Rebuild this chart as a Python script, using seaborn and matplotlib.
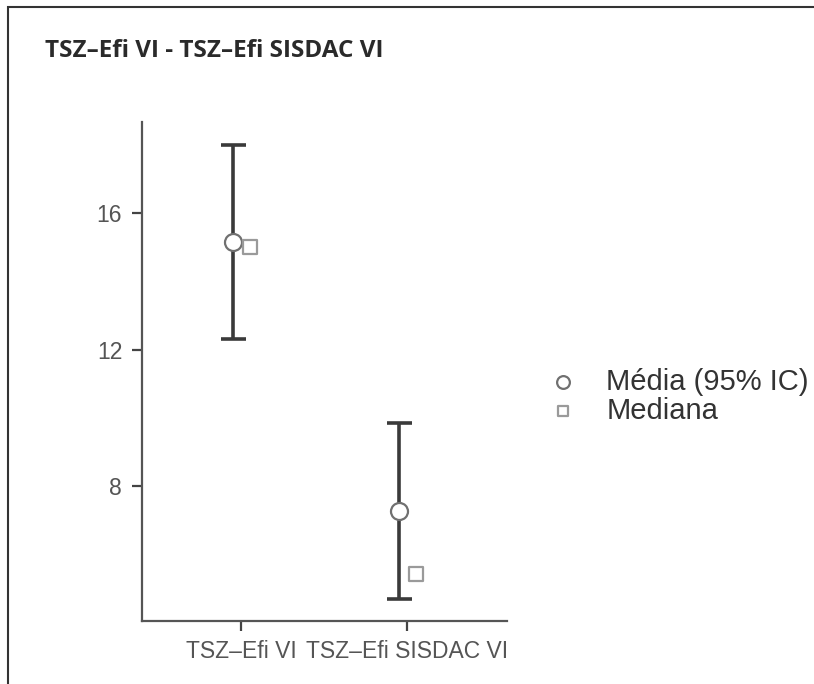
import numpy as np
import pandas as pd
import seaborn as sns
import matplotlib.pyplot as plt
from matplotlib.patches import Rectangle

# summary values
groups = ["TSZ\u2013Efi VI", "TSZ\u2013Efi SISDAC VI"]
means = [15.15, 7.28]
ci_low = [12.32, 4.71]
ci_high = [18.0, 9.85]
medians = [15.0, 5.44]

sns.set_theme(style="ticks")
plt.rcParams['font.family'] = ['Liberation Sans', 'DejaVu Sans']

pos = np.arange(len(groups))
dodge = 0.05
df = pd.DataFrame({"pos": pos, "grupo": groups, "media": means,
                   "lo": ci_low, "hi": ci_high, "mediana": medians})

fig = plt.figure(figsize=(8.14, 6.84), dpi=100)
ax = fig.add_axes([0.174, 0.0925, 0.449, 0.729])

# 95% CI bars
ax.errorbar(df["pos"] - dodge, df["media"],
            yerr=[df["media"] - df["lo"], df["hi"] - df["media"]],
            fmt="none", ecolor="#3a3a3a", elinewidth=2.6, capsize=9,
            capthick=2.6, zorder=2)

sns.scatterplot(x=df["pos"] - dodge, y=df["media"], ax=ax, marker="o", s=150,
                facecolor="white", edgecolor="#707070", linewidth=1.6,
                zorder=3, label="M\u00e9dia (95% IC)")
sns.scatterplot(x=df["pos"] + dodge, y=df["mediana"], ax=ax, marker="s", s=110,
                facecolor="white", edgecolor="#9a9a9a", linewidth=1.6,
                zorder=3, label="Mediana")

ax.set_xlim(-0.6, 1.6)
ax.set_ylim(4.06, 18.66)
ax.set_yticks([8, 12, 16])
ax.set_xticks(pos)
ax.set_xticklabels(groups)
ax.set_xlabel("")
ax.set_ylabel("")
sns.despine(ax=ax)
for sp in ["left", "bottom"]:
    ax.spines[sp].set_color("#555555")
    ax.spines[sp].set_linewidth(1.6)
ax.tick_params(axis="both", length=7, width=1.6, color="#444444",
               labelsize=16.5, labelcolor="#555555", pad=7)

leg = ax.legend(loc="center left", bbox_to_anchor=(1.04, 0.45), frameon=False,
                fontsize=21, handletextpad=0.5, labelspacing=0.05,
                markerscale=0.75, borderaxespad=0)
for t in leg.get_texts():
    t.set_color("#333333")

fig.text(0.055, 0.925, "TSZ\u2013Efi VI - TSZ\u2013Efi SISDAC VI",
         fontsize=17.5, fontweight="bold", color="#2a2a2a",
         family=["Open Sans", "DejaVu Sans"], va="center", ha="left")

# outer frame of the screenshot
fig.patches.append(Rectangle((8 / 814, -0.1), 1.2, 1 - 7 / 684 + 0.1,
                             transform=fig.transFigure, fill=False,
                             edgecolor="#333333", linewidth=1.5))

fig.savefig("out.png", dpi=100)
